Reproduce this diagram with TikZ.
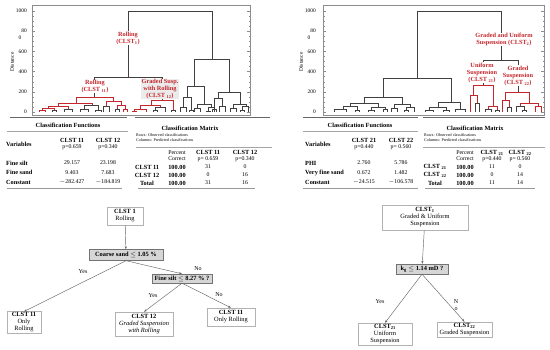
\documentclass[tikz,border=0pt]{standalone}
\usepackage{fontspec}
\setmainfont{Liberation Serif}
\usetikzlibrary{arrows.meta,positioning}
\definecolor{clred}{RGB}{196,38,44}
\definecolor{testgray}{RGB}{214,214,214}
\tikzset{
  dlink/.style={draw=black!75,line width=.45pt},
  rlink/.style={draw=clred,line width=.65pt},
  frame/.style={draw=black!45,line width=.35pt},
  ticklab/.style={font=\fontsize{5.4}{5}\selectfont,inner sep=0pt},
  distlab/.style={font=\fontsize{5.4}{5}\selectfont,rotate=90,inner sep=0pt},
  redlab/.style={text=clred,font=\fontsize{6.3}{7}\selectfont\bfseries,align=center,fill=white,inner sep=.6pt},
  tabhead/.style={font=\fontsize{6.3}{6}\selectfont\bfseries,inner sep=0pt},
  tabcell/.style={font=\fontsize{5.8}{6}\selectfont,inner sep=0pt,align=center},
  tabnote/.style={font=\fontsize{4.1}{4}\selectfont,inner sep=0pt,anchor=west},
  toprule/.style={draw=black!60,line width=.8pt},
  midrule/.style={draw=black!35,line width=.5pt},
  botrule/.style={draw=black!40,line width=1.1pt},
  leafbox/.style={draw=black!30,fill=white,align=center,font=\fontsize{6.4}{7}\selectfont,inner sep=1pt},
  testbox/.style={draw=black!55,fill=testgray,font=\fontsize{6.4}{6}\selectfont\bfseries,inner sep=1pt},
  arr/.style={draw=black!60,line width=.45pt,-{Stealth[length=3pt,width=2.2pt]}},
  branch/.style={font=\fontsize{6}{7}\selectfont,inner sep=0pt,align=center},
}
\begin{document}
\begin{tikzpicture}[x=1pt,y=-1pt]
\useasboundingbox (0,0) rectangle (550,350);
% frames and axes of both dendrograms
\foreach \xa/\xb/\xt/\nm in {32/250/27/l, 323/544/316/r}{
  \draw[frame] (\xa,5) rectangle (\xb,115);
  \foreach \v in {0,50,...,1000}
    \draw[frame] (\xa,{112-.101*\v}) -- ++(1.5,0) (\xb,{112-.101*\v}) -- ++(-1.5,0);
  \foreach \v in {0,200,...,1000}
    \draw[frame] (\xa,{112-.101*\v}) -- ++(3,0) (\xb,{112-.101*\v}) -- ++(-3,0);
  \foreach \v/\y [count=\i] in {1000/11, 80/31.2, 600/51.4, 400/71.6, 200/91.8, 0/112}
    \node[ticklab,anchor=east] (tk\nm\i) at (\xt,\y) {\v};
  \node[ticklab,anchor=west] (tk\nm0) at (\xt-8.5,38) {0};
  \node[distlab] (dist\nm) at (\xt-15,62) {Distance};
}
% left dendrogram
\foreach \xl/\xr/\y/\yl/\yr in {
  128/212/11/77/59, 94/162/77/97/100,
  52/56/110/112/112, 64/72/109/112/112, 84/98/105/109/110, 80/88/109/112/112, 95/101/110/112/112,
  103/109/106/112/112, 115/119/109/112/112,
  155/165/107/110/112, 153/157/110/112/112, 171/175/110/112/112,
  194/229/59/86/92, 187/204/86/97/104, 183/191/97/107/110, 180/186/107/112/112, 189/193/110/112/112,
  197/211/104/108/107, 194/200/108/112/112, 208/214/107/111/112, 206/210/111/112/112,
  218/240/92/98/104, 214/222/98/109/106, 212/216/109/112/112, 219/225/106/112/112,
  233/246/104/108/106, 230/236/108/112/112, 242/248/106/110/112, 240/244/110/112/112}
  \draw[dlink] (\xl,\yl) |- (\xr,\y) -- (\xr,\yr);
\foreach \xl/\xr/\y/\yl/\yr in {
  76/113/97/103/101, 58/92/103/106/105, 48/68/106/108/109, 42/54/108/110/110, 39/45/110/112/112,
  106/121/101/106/105, 117/125/105/109/109, 123/127/109/112/112,
  151/173/100/105/110, 140/160/105/109/107, 134/146/109/111/112, 132/136/111/112/112}
  \draw[rlink] (\xl,\yl) |- (\xr,\y) -- (\xr,\yr);
% right dendrogram
\foreach \xl/\xr/\y/\yl/\yr in {
  417/501/11/78/60, 383/451/78/97/102, 364/402/97/103/104, 350/378/103/106/107,
  343/357/106/109/110, 334/346/109/112/112, 355/359/110/112/112,
  371/385/107/110/109, 368/374/110/112/112, 383/387/109/112/112,
  394/410/104/108/107, 391/397/108/112/112, 406/414/107/110/112, 404/408/110/112/112,
  438/460/102/107/109, 429/446/107/110/110, 425/433/110/112/112, 443/449/110/112/112, 455/465/109/112/112,
  483/518/60/85/92,
  475/479/103/112/112, 485/491/109/112/112, 495/499/110/112/112,
  507/511/107/112/112, 516/524/106/112/110, 522/526/110/112/112}
  \draw[dlink] (\xl,\yl) |- (\xr,\y) -- (\xr,\yr);
\foreach \xl/\xr/\y/\yl/\yr in {
  473/493/85/95/106, 470/477/95/112/103, 488/497/106/109/110,
  505/529/92/100/103, 502/509/100/112/107, 520/538/103/106/106, 535/541/106/112/112}
  \draw[rlink] (\xl,\yl) |- (\xr,\y) -- (\xr,\yr);
% cluster labels
\node[redlab] (lab1) at (128,38) {Rolling\\(CLST\textsubscript{1})};
\node[redlab] (lab11) at (95,86.5) {Rolling\\(CLST \textsubscript{11})};
\node[redlab,fill=black!8] (lab12) at (160,89) {Graded Susp.\\with Rolling\\(CLST \textsubscript{12})};
\node[redlab] (lab2) at (504,39.5) {Graded and Uniform\\Suspension (CLST\textsubscript{2})};
\node[redlab] (lab21) at (482,72.5) {Uniform\\Suspension\\(CLST \textsubscript{21})};
\node[redlab] (lab22) at (518,75.5) {Graded\\Suspension\\(CLST \textsubscript{22})};
% table rules
\draw[toprule] (10,117) -- (127,117);
\draw[toprule] (135,117) -- (270,117);
\draw[toprule] (303,117) -- (418,117);
\draw[toprule] (423,117) -- (545,117);
% left classification functions
\node[tabhead] (cf1) at (68,125.5) {Classification Functions};
\draw[midrule] (7,131.5) -- (128,131.5);
\node[tabhead,anchor=west] (var1) at (6,144) {Variables};
\node[tabhead] (h11) at (72,140.5) {CLST 11};
\node[tabcell] (p11) at (72,147) {p=0.659};
\node[tabhead] (h12) at (108,140.5) {CLST 12};
\node[tabcell] (p12) at (108,147) {p=0.340};
\foreach \v/\a/\b/\y [count=\i] in {Fine silt/29.157/23.198/163, Fine sand/9.403/7.683/172.5, Constant/$-$282.427/$-$184.819/182}{
  \node[tabhead,anchor=west] (fv\i) at (6,\y) {\v};
  \node[tabcell] (fa\i) at (72,\y) {\a};
  \node[tabcell] (fb\i) at (108,\y) {\b};}
\draw[botrule] (7,188.5) -- (122,188.5);
% left classification matrix
\node[tabhead] (cm1) at (190,128) {Classification Matrix};
\node[tabnote] (rw1) at (136,135) {Rows: Observed classifications};
\node[tabnote] (co1) at (136,140) {Columns: Predicted classifications};
\draw[midrule] (136,147.5) -- (272,147.5);
\node[tabcell] (pc1) at (177,155.5) {Percent\\Correct};
\node[tabhead] (m11) at (208,152.5) {CLST 11};
\node[tabcell] (q11) at (208,159) {p= 0.659};
\node[tabhead] (m12) at (245,152.5) {CLST 12};
\node[tabcell] (q12) at (245,159) {p=0.340};
\foreach \rw/\a/\b/\y [count=\i] in {CLST 11/31/0/167, CLST 12/0/16/175, Total/31/16/183}{
  \node[tabhead] (mr\i) at (147,\y) {\rw};
  \node[tabhead] (mp\i) at (177,\y) {100.00};
  \node[tabcell] (ma\i) at (208,\y) {\a};
  \node[tabcell] (mb\i) at (245,\y) {\b};}
\draw[botrule] (138,188.5) -- (255,188.5);
% right classification functions
\node[tabhead] (cf2) at (360,125.5) {Classification Functions};
\draw[midrule] (303,131.5) -- (418,131.5);
\node[tabhead,anchor=west] (var2) at (305,144) {Variables};
\node[tabhead] (h21) at (364,140.5) {CLST 21};
\node[tabcell] (p21) at (364,147) {p=0.440};
\node[tabhead] (h22) at (401,140.5) {CLST 22};
\node[tabcell] (p22) at (401,147) {p= 0.560};
\foreach \v/\a/\b/\y [count=\i] in {PHI/2.760/5.786/163, Very fine sand/0.672/1.482/172.5, Constant/$-$24.515/$-$106.578/182}{
  \node[tabhead,anchor=west] (gv\i) at (305,\y) {\v};
  \node[tabcell] (ga\i) at (364,\y) {\a};
  \node[tabcell] (gb\i) at (401,\y) {\b};}
\draw[botrule] (303,188.5) -- (418,188.5);
% right classification matrix
\node[tabhead] (cm2) at (475,128) {Classification Matrix};
\node[tabnote] (rw2) at (424,135) {Rows: Observed classifications};
\node[tabnote] (co2) at (424,140) {Columns: Predicted classifications};
\draw[midrule] (423,147.5) -- (545,147.5);
\node[tabcell] (pc2) at (465,155.5) {Percent\\Correct};
\node[tabhead] (m21) at (492,152.5) {CLST \textsubscript{21}};
\node[tabcell] (q21) at (492,159) {p=0.440};
\node[tabhead] (m22) at (520,152.5) {CLST \textsubscript{22}};
\node[tabcell] (q22) at (520,159) {p= 0.560};
\foreach \rw/\a/\b/\y [count=\i] in {CLST \textsubscript{21}/11/0/167, CLST \textsubscript{22}/0/14/175, Total/11/14/183}{
  \node[tabhead] (nr\i) at (435,\y) {\rw};
  \node[tabhead] (np\i) at (465,\y) {100.00};
  \node[tabcell] (na\i) at (492,\y) {\a};
  \node[tabcell] (nb\i) at (520,\y) {\b};}
\draw[botrule] (425,188.5) -- (535,188.5);
% left decision tree
\node[leafbox,minimum width=36pt,minimum height=18pt] (c1) at (125,216) {\textbf{CLST 1}\\Rolling};
\node[testbox,minimum width=74pt,minimum height=11pt] (t1) at (126,255) {Coarse sand $\leq$ 1.05 \%};
\node[leafbox,minimum width=34pt,minimum height=21pt] (l1) at (24,322.5) {\textbf{CLST 11}\\Only\\Rolling};
\node[testbox,minimum width=60pt,minimum height=9pt] (t2) at (182,278.5) {Fine silt $\leq$ 8.27 \% ?};
\node[leafbox,minimum width=58pt,minimum height=24pt] (l2) at (144,324) {\textbf{CLST 12}\\\textit{Graded Suspension}\\\textit{with Rolling}};
\node[leafbox,minimum width=48pt,minimum height=18pt] (l3) at (231,317) {\textbf{CLST 11}\\Only Rolling};
\draw[arr] (c1) -- (t1);
\draw[arr] (t1.south) -- (l1.north);
\draw[arr] (t1.south) -- (t2.north);
\draw[arr] (t2.south) -- (l2.north);
\draw[arr] (t2.south) -- (l3.north);
\node[branch] (yes1) at (83,272) {Yes};
\node[branch] (no1) at (198,269) {No};
\node[branch] (yes2) at (153,296) {Yes};
\node[branch] (no2) at (219,295) {No};
% right decision tree
\node[leafbox,minimum width=86pt,minimum height=25pt] (c2) at (425,217.5) {\textbf{CLST\textsubscript{1}}\\Graded \& Uniform\\Suspension};
\node[testbox,minimum width=52pt,minimum height=10pt] (t3) at (422,269) {k\textsubscript{g} $\leq$ 1.14 mD ?};
\node[leafbox,minimum width=54pt,minimum height=22pt] (l4) at (385,334) {\textbf{CLST\textsubscript{21}}\\Uniform\\Suspension};
\node[leafbox,minimum width=55pt,minimum height=15pt] (l5) at (464.5,329.5) {\textbf{CLST\textsubscript{22}}\\Graded Suspension};
\draw[arr] (c2) -- (t3);
\draw[arr] (t3.south) -- (l4.north);
\draw[arr] (t3.south) -- (l5.north);
\node[branch] (yes3) at (380,302) {Yes};
\node[branch] (no3) at (456,305.5) {N\\o};
\end{tikzpicture}
\end{document}
